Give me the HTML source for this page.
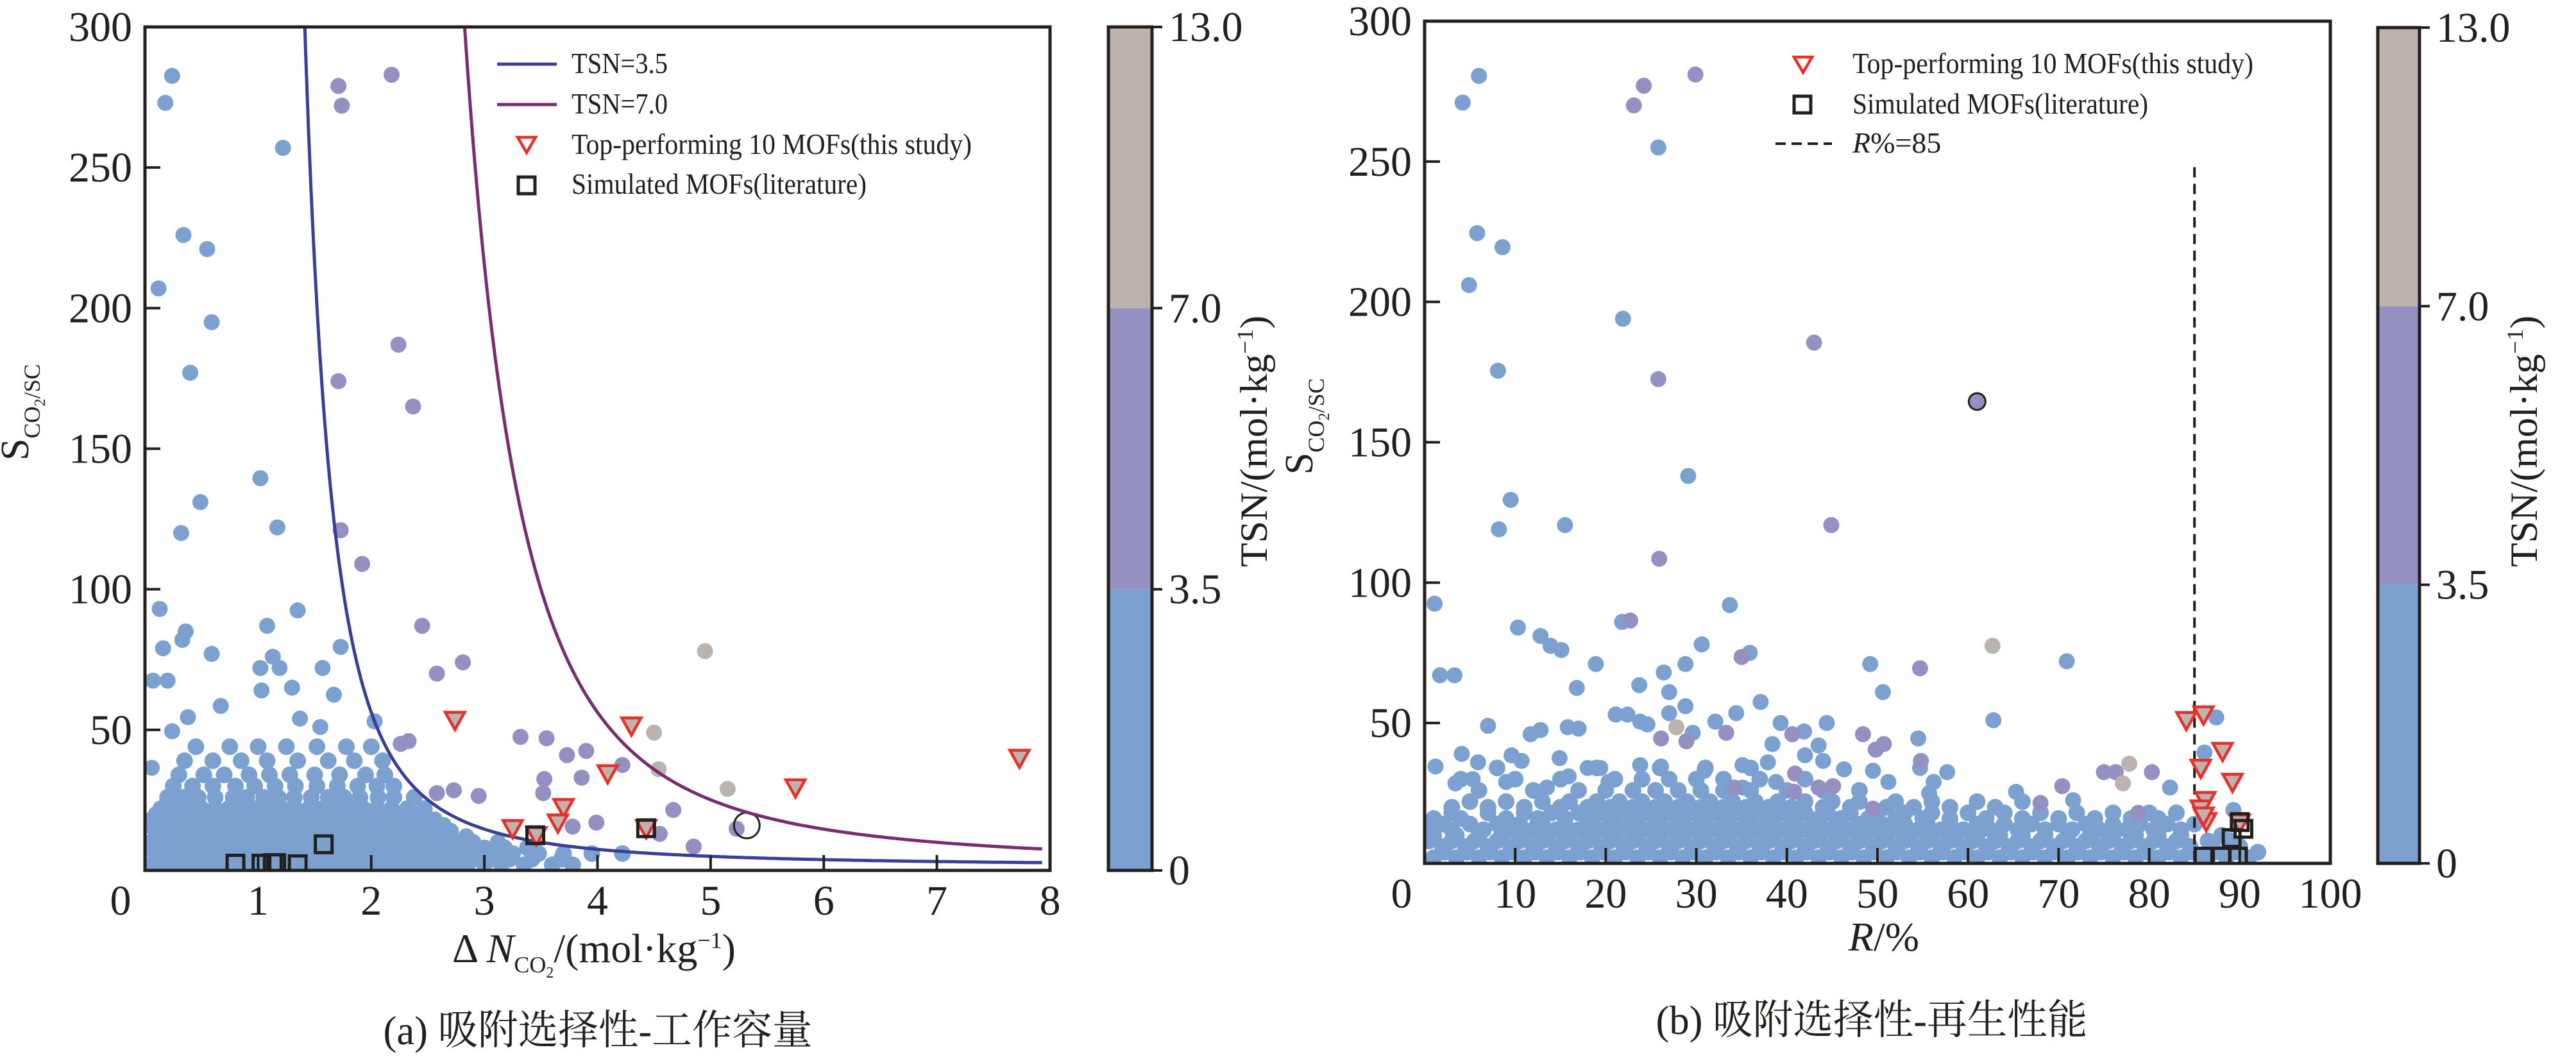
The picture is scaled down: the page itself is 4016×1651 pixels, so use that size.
<!DOCTYPE html>
<html><head><meta charset="utf-8"><style>
html,body{margin:0;padding:0;background:#fff;}
svg, svg text{font-family:"Liberation Serif","Noto Serif CJK SC",serif;}
</style></head><body>
<svg id="fig" width="4016" height="1646" viewBox="0 0 4016 1646" xmlns="http://www.w3.org/2000/svg" font-family="'Liberation Serif','Noto Serif CJK SC',serif">
<rect width="4016" height="1646" fill="#fff"/>
<g id="plotA"></g>
<g id="plotB"></g>
</svg>
<script>
// ---------- Panel (a) data ----------
const aXTicks = [0,1,2,3,4,5,6,7,8];
const aYTicks = [0,50,100,150,200,250,300];
const cbTicks = [0,3.5,7.0,13.0];
const cbLabels = ["0","3.5","7.0","13.0"];
const tsnCurves = [3.5,7.0];
const aCloudS = [2,6,10,14,18,22,26,30,34,39,44,4,8,12,16,20];
const aCloudX = [
 [0.04,0.15,0.27,0.38,0.5,0.61,0.72,0.84,0.95,1.07,1.2,1.31,1.43,1.55,1.66,1.78,1.9,2.01,2.13,2.25,2.37,2.48,2.6,2.72,2.85,3.0,3.15,3.35,3.6,3.78],
 [0.09,0.2,0.32,0.44,0.55,0.67,0.78,0.9,1.02,1.13,1.25,1.37,1.49,1.6,1.72,1.84,1.96,2.07,2.19,2.31,2.43,2.55,2.66,2.78,2.92,3.08,3.25,3.48,3.7,3.95,4.22],
 [0.05,0.16,0.28,0.4,0.51,0.63,0.74,0.86,0.98,1.1,1.21,1.33,1.45,1.57,1.68,1.8,1.92,2.04,2.15,2.27,2.39,2.51,2.62,2.76,2.9,3.12],
 [0.1,0.22,0.33,0.45,0.57,0.69,0.8,0.92,1.04,1.16,1.27,1.39,1.51,1.63,1.74,1.86,1.98,2.1,2.21,2.33,2.45,2.58,2.7],
 [0.06,0.18,0.3,0.41,0.53,0.65,0.77,0.88,1.0,1.12,1.24,1.35,1.47,1.59,1.71,1.83,1.95,2.07,2.19,2.31,2.44,2.56],
 [0.14,0.26,0.38,0.5,0.62,0.74,0.86,0.97,1.09,1.21,1.33,1.45,1.57,1.69,1.81,1.93,2.05,2.18,2.32,2.47],
 [0.2,0.34,0.47,0.62,0.78,0.9,1.05,1.18,1.32,1.47,1.62,1.76,1.9,2.06,2.2,2.38],
 [0.25,0.42,0.6,0.8,0.97,1.15,1.33,1.52,1.7,1.88,2.05,2.2],
 [0.3,0.52,0.7,0.92,1.1,1.28,1.5,1.72,1.95,2.12],
 [0.35,0.6,0.85,1.08,1.35,1.62,1.85,2.1],
 [0.45,0.75,1.0,1.25,1.52,1.78,2.0],
 [0.1,0.21,0.33,0.44,0.56,0.67,0.78,0.9,1.01,1.13,1.26,1.37,1.49,1.61,1.72,1.84,1.96,2.07,2.19,2.31,2.43,2.54,2.66,2.78,2.9,3.05,3.22,3.42,3.68],
 [0.03,0.14,0.26,0.38,0.49,0.61,0.72,0.84,0.96,1.07,1.19,1.31,1.43,1.54,1.66,1.78,1.9,2.01,2.13,2.25,2.37,2.49,2.6,2.72,2.85,3.0,3.18,3.38],
 [0.1,0.22,0.34,0.46,0.57,0.69,0.8,0.92,1.04,1.16,1.27,1.39,1.51,1.63,1.74,1.86,1.98,2.1,2.21,2.33,2.45,2.57,2.7,2.84],
 [0.03,0.16,0.27,0.39,0.51,0.63,0.74,0.86,0.98,1.1,1.21,1.33,1.45,1.57,1.68,1.8,1.92,2.04,2.15,2.27,2.39,2.51,2.64],
 [0.1,0.2,0.32,0.44,0.56,0.68,0.8,0.92,1.03,1.15,1.27,1.39,1.51,1.63,1.75,1.87,1.99,2.11,2.25,2.4]
];
const aBlueX = [0.24,0.18,1.22,0.34,0.55,0.12,0.59,0.40,1.02,0.49,1.17,0.32,0.13,1.35,1.08,0.36,0.33,0.16,0.59,1.13,1.19,1.02,1.57,0.07,0.20,1.30,1.03,1.67,1.73,0.67,2.03,0.38,1.37,0.24,1.55,0.06];
const aBlueS = [282.6,273,257,226,221,207,195,177,139.5,131,122,120,93,92.5,87,85,82,79,77,76,72,72,72,67.5,67.5,65,64,62.5,79.5,58.5,53,54.5,54,49.5,51,36.5];
const aPurpX = [1.71,1.74,2.18,2.24,1.71,2.37,1.73,1.92,2.45,2.58,2.81,3.32,3.55,3.73,3.90,4.22,3.86,3.53,2.26,2.33,2.58,2.73,2.95,4.67,4.55,4.85,5.23,3.52,3.99,3.78];
const aPurpS = [279,272,283,187,174,165,121,109,87,70,74,47.5,47,41,42.5,37.5,33,32.5,45,46,27.5,28.5,26.5,21.5,13,8.5,14.8,27.5,17,15.6];
const aGrayX = [4.95,4.50,4.54,5.15];
const aGrayS = [78,49,36,29];
const aTopX = [2.74,4.30,4.09,5.75,7.73,3.70,3.65,3.25,3.46,4.43];
const aTopS = [53.5,51.5,34.5,29.5,40,22.5,17,15,12.5,15];
const aLitX = [0.80,1.03,1.13,1.16,1.35,1.58,3.45,4.43];
const aLitS = [2.4,2.4,2.6,2.6,2.2,9.3,12.5,15];

// ---------- Panel (b) data ----------
const bXTicks = [0,10,20,30,40,50,60,70,80,90,100];
const bYTicks = [0,50,100,150,200,250,300];
const bCloudS = [2,6,10,14,18,22,26,30,34,4,8,12,16,20];
const bCloudX = [
 [1,3.5,6,8.5,11,13.5,16,18.5,21,23.5,26,28.5,31,33.5,36,38.5,41,43.5,46,48.5,51,53.5,56,58.5,61,63.5,66,68.5,71,73.5,76,78.5,81,83.5,86,88.5,91],
 [2,4.5,7,9.5,12,14.5,17,19.5,22,24.5,27,29.5,32,34.5,37,39.5,42,44.5,47,49.5,52,54.5,57,59.5,62,64.5,67,69.5,72,74.5,77,79.5,82,84.5,87,90],
 [1,3.5,6,8.5,11,13.5,16,18.5,21,23.5,26,28.5,31,33.5,36,38.5,41,43.5,46,48.5,51,53.5,56,58.5,61,63.5,66,68.5,71,73.5,76,78.5,81,83.5,88],
 [2,5,8,10.5,13,15.5,18,20.5,23,25.5,28,30.5,33,35.5,38,40.5,43,45.5,48,50.5,53,55.5,58,61,64,67,70,73,76,79,82,85],
 [3,7,11,14,17,19.5,22,24.5,27,29.5,32,34.5,37,39.5,42,44.5,47,50,53,56,60,64,68,72,76,80,83],
 [5,9,13,16,19,21.5,24,26.5,29,31.5,34,36.5,39,42,45,48,52,56,61,66],
 [6,12,17,20,23,25.5,28,30.5,33,36,40,44,48],
 [4,10,15,21,24,27,30,33,37,42],
 [8,19,26,31,36],
 [2.2,4.7,7.2,9.7,12.2,14.7,17.2,19.7,22.2,24.7,27.2,29.7,32.2,34.7,37.2,39.7,42.2,44.7,47.2,49.7,52.2,54.7,57.2,59.7,62.2,64.7,67.2,69.7,72.2,74.7,77.2,79.7,82.2,84.7,87.2,89.7,92],
 [0.5,3,5.5,8,10.5,13,15.5,18,20.5,23,25.5,28,30.5,33,35.5,38,40.5,43,45.5,48,50.5,53,55.5,58,60.5,63,65.5,68,70.5,73,75.5,78,80.5,83,86.5,89],
 [0.5,3,6.5,9.5,12,14.5,17,19.5,22,24.5,27,29.5,32,34.5,37,39.5,42,44.5,47,49.5,52,54.5,57,59.5,62.5,65.5,68.5,71.5,74.5,77.5,80.5,83.5],
 [1,4,9,12.5,15.5,18.5,21,23.5,26,28.5,31,33.5,36,38.5,41,43.5,46,49,52,55,58,62,66,70,74,78,81],
 [3,7,11,15,18,20.5,23,25.5,28,30.5,33,35.5,38,40.5,44,47,51,54,58,63]
];
const bBlueR = [6.0,4.2,25.8,5.8,8.6,4.9,21.9,8.1,29.1,9.5,15.5,8.2,1.1,33.7,10.3,21.8,12.8,13.9,15.1,30.6,35.9,18.9,26.4,28.8,1.7,3.3,49.2,70.9,23.7,16.8,27.0,50.6,28.8,37.1,7.0,21.1,22.4,34.4,27.0,39.3,44.4,62.8,87.4,32.1,11.7,12.8,15.8,17.0,23.8,24.6,29.6,41.9,38.4,43.5,54.5,4.1,9.6,10.7,5.9,1.2,14.9,18.0,19.4,23.8,26.1,30.9,35.1,37.9,42.0,44.0,46.3,49.5,54.7,57.7,86.1,82.3,5.3,3.4,9.0,13.5,15.9,20.3,35.1,38.8,51.2,56.2,65.3,55.7,71.6,89.3];
const bBlueS = [280.5,271,255,224.5,219.5,206,194,175.5,138,129.5,120.5,119,92.5,92,84,86,81,77.5,76,78,75,71,68,71,67,67,71,72,63.5,62.5,61,61,56,57.5,49,53,53,53.5,53.5,50,50,51,52,50.5,46,47.5,48.5,48,50.5,49.5,46.5,47,42.5,42,44.5,39,38.5,36.5,36,34.5,37.5,34,34,35,34.5,33,35,36,38.5,36.5,33.5,33,34,32.5,39.5,27,30,28.5,29,27,31,29,27,29,29,29,25.5,25,22.5,19];
const bPurpR = [24.2,23.1,29.9,43.0,25.8,44.9,25.9,22.7,35.0,54.7,33.3,28.9,26.1,48.4,50.7,49.8,40.6,40.8,43.5,45.1,34.2,70.4,75.0,76.3,80.3,68.0,78.8,54.8,49.5,40.9];
const bPurpS = [277,270,281,185.5,172.5,120.5,108.5,86.5,73.5,69.5,46.5,43.5,44.5,46,42.5,40.5,46,25.5,27,27.5,27,27.5,32.5,32.5,32.5,21.5,18,36.5,19.5,32];
const bCircR = [61.0];
const bCircS = [164.5];
const bGrayR = [27.8,62.7,77.8,77.1];
const bGrayS = [48.5,77.5,35.5,28.5];
const bTopR = [84.1,86.0,88.1,85.7,89.2,86.2,85.7,86.3,86.0,90.0];
const bTopS = [51,53,40,34,29,22.5,19.5,15,17,14.5];
const bLitR = [86.0,88.0,89.8,89.1,90.0,90.4];
const bLitS = [2.4,2.4,2.4,9,14.7,12.3];
const cutoffR = [85];
const cutoffTop = [248];

// ---------- helpers ----------
const NS = "http://www.w3.org/2000/svg";
const FONT = "'Liberation Serif','Noto Serif CJK SC',serif";
const BLUE="#7aa1d0", PURP="#9590c2", GRAY="#bbb3ae", INK="#231f1c", RED="#e8302a";
function mk(tag, attrs, parent){
  const e=document.createElementNS(NS,tag);
  for(const k in attrs) e.setAttribute(k,attrs[k]);
  parent.appendChild(e); return e;
}
function txt(parent, s, x, y, size, anchor, extra){
  const t=mk('text',Object.assign({x:x,y:y,'font-size':size,'text-anchor':anchor||'start',fill:INK,'font-family':FONT},extra||{}),parent);
  t.textContent=s; return t;
}

function buildPanel(cfg){
  const g=document.getElementById(cfg.id);
  const X=cfg.sx, Y=cfg.sy;
  const pts=mk('g',{},g);
  
  
  cfg.cloudS.forEach((s,i)=>{
    cfg.cloudX[i].forEach(x=>{
      const c=mk('circle',{cx:X(x),cy:Y(s),r:13,fill:BLUE},pts);
      
      
    });
  });
  const groups=[[cfg.blueX,cfg.blueS,BLUE],[cfg.purpX,cfg.purpS,PURP],[cfg.grayX,cfg.grayS,GRAY]];
  groups.forEach(([xs,ss,col])=>{
    xs.forEach((x,i)=>{
      const c=mk('circle',{cx:X(x),cy:Y(ss[i]),r:12.5,fill:col},pts);
      
      
    });
  });
  if(cfg.circX){
    cfg.circX.forEach((x,i)=>{
      const c=mk('circle',{cx:X(x),cy:Y(cfg.circS[i]),r:13,fill:PURP,stroke:INK,'stroke-width':3},pts);
      
      
    });
  }
  if(cfg.extra) cfg.extra(g);
  cfg.topX.forEach((x,i)=>{
    const cx=X(x), cy=Y(cfg.topS[i]);
    const p=mk('polygon',{points:`${cx-15},${cy-12} ${cx+15},${cy-12} ${cx},${cy+15}`,fill:GRAY,stroke:RED,'stroke-width':4.5},g);
    
    
  });
  cfg.litX.forEach((x,i)=>{
    const cx=X(x), cy=Y(cfg.litS[i]);
    const r=mk('rect',{x:cx-13,y:cy-13,width:26,height:26,fill:'none',stroke:INK,'stroke-width':5},g);
    
    
  });
  const L=cfg.L,R=cfg.R,T=cfg.T,B=cfg.B;
  mk('rect',{x:L-60,y:B+2.5,width:R-L+120,height:60,fill:'#fff'},g);
  mk('rect',{x:L-60,y:0,width:57.5,height:B+60,fill:'#fff'},g);
  const fr=mk('rect',{x:L,y:T,width:R-L,height:B-T,fill:'none',stroke:INK,'stroke-width':5},g);
  
  
  const xa=mk('g',{},g);
  
  
  cfg.xTicks.forEach(v=>{
    const x=X(v);
    mk('line',{x1:x,y1:B,x2:x,y2:B-24,stroke:INK,'stroke-width':4},xa);
    const t=txt(xa,String(v),x+(v===0?cfg.zeroOff:0),B+69,66,'middle');
    
    
  });
  const ya=mk('g',{},g);
  
  
  cfg.yTicks.forEach(v=>{
    const y=Y(v);
    mk('line',{x1:L,y1:y,x2:L+24,y2:y,stroke:INK,'stroke-width':4},ya);
    if(v>0){
      const t=txt(ya,String(v),L-20,y+22,66,'end');
      
      
    }
  });
  const cb=mk('g',{},g);
  
  
  const CY=v=>{
    const h=(cfg.cbB-cfg.T2)/3;
    if(v<=3.5) return cfg.cbB-v/3.5*h;
    if(v<=7) return cfg.cbB-h-(v-3.5)/3.5*h;
    return cfg.cbB-2*h-(v-7)/6*h;
  };
  const cols=[BLUE,PURP,GRAY];
  for(let i=0;i<3;i++){
    const r=mk('rect',{x:cfg.cbL,y:CY(cbTicks[i+1]),width:cfg.cbW,height:CY(cbTicks[i])-CY(cbTicks[i+1]),fill:cols[i]},cb);
    
    
  }
  mk('rect',{x:cfg.cbL,y:cfg.T2,width:cfg.cbW,height:cfg.cbB-cfg.T2,fill:'none',stroke:INK,'stroke-width':5},cb);
  cbTicks.forEach((v,i)=>{
    const y=CY(v);
    mk('line',{x1:cfg.cbL+cfg.cbW,y1:y,x2:cfg.cbL+cfg.cbW+16,y2:y,stroke:INK,'stroke-width':4},cb);
    const t=txt(cb,cbLabels[i],cfg.cbL+cfg.cbW+26,y+22,66,'start');
    
    
  });
  const cl=txt(cb,'',cfg.cbLabX,cfg.cbLabY,60,'middle',{transform:`rotate(-90 ${cfg.cbLabX} ${cfg.cbLabY})`,textLength:392,lengthAdjust:'spacingAndGlyphs'});
  cl.innerHTML='TSN/(mol·kg<tspan font-size="36" dy="-22">−1</tspan><tspan dy="22">)</tspan>';
  
  
  const yl=mk('text',{x:0,y:0,transform:`translate(${cfg.yLabX} ${cfg.yLabY}) rotate(-90)`,'font-size':62,fill:INK,'font-family':FONT},g);
  yl.innerHTML='S<tspan font-size="36" dy="18">CO<tspan font-size="24" dy="8">2</tspan><tspan dy="-8">/SC</tspan></tspan>';
  
  
}

// Panel A
const aL=226,aR=1637,aT=42,aB=1357;
const ax=v=>aL+v*(aR-aL)/8, ay=v=>aB-v*(aB-aT)/300;
buildPanel({id:'plotA',sx:ax,sy:ay,L:aL,R:aR,T:aT,B:aB,xTicks:aXTicks,yTicks:aYTicks,zeroOff:-38,
 cloudS:aCloudS,cloudX:aCloudX,blueX:aBlueX,blueS:aBlueS,purpX:aPurpX,purpS:aPurpS,grayX:aGrayX,grayS:aGrayS,
 topX:aTopX,topS:aTopS,litX:aLitX,litS:aLitS,
 cbL:1728,cbW:68,T2:42,cbB:1357,cbLabX:1975,cbLabY:688,yLabX:44,yLabY:718,
 extra:(g)=>{
   const oc=mk('circle',{cx:ax(5.32),cy:ay(16),r:20,fill:'none',stroke:INK,'stroke-width':3},g);
   
   
   const colors=['#3a3e98','#7b2b6f'];
   tsnCurves.forEach((T,i)=>{
     const x0=T/Math.log10(300);
     let d='';
     for(let k=0;k<=400;k++){
       const x=x0+(7.93-x0)*Math.pow(k/400,2);
       const s=Math.pow(10,T/x);
       d+=(k?'L':'M')+ax(x).toFixed(1)+','+ay(s).toFixed(1);
     }
     const p=mk('path',{d:d,fill:'none',stroke:colors[i],'stroke-width':5},g);
     
     
   });
 }});
(function(){
  const g=document.getElementById('plotA');
  const lg=mk('g',{},g);
  
  
  mk('line',{x1:775,y1:100,x2:868,y2:100,stroke:'#3a3e98','stroke-width':5},lg);
  mk('line',{x1:775,y1:163,x2:868,y2:163,stroke:'#7b2b6f','stroke-width':5},lg);
  mk('polygon',{points:'807,214 835,214 821,238',fill:'#fff',stroke:RED,'stroke-width':4.5},lg);
  mk('rect',{x:808,y:276,width:26,height:26,fill:'none',stroke:INK,'stroke-width':5},lg);
  const items=[['TSN=3.5',114,150],['TSN=7.0',177,150],['Top-performing 10 MOFs(this study)',240,624],['Simulated MOFs(literature)',302,460]];
  items.forEach(([s,y,w])=>{
    const t=txt(lg,s,891,y,46,'start',{textLength:w,lengthAdjust:'spacingAndGlyphs'});
    
    
  });
  const xl=mk('text',{x:926,y:1500,'font-size':64,'text-anchor':'middle',fill:INK,'font-family':FONT},g);
  xl.innerHTML='Δ <tspan font-style="italic">N</tspan><tspan font-size="36" dy="16">CO<tspan font-size="24" dy="8">2</tspan></tspan><tspan dy="-24">/(mol·kg</tspan><tspan font-size="36" dy="-22">−1</tspan><tspan dy="22">)</tspan>';
  
  
  const cap=txt(g,'(a) 吸附选择性-工作容量',932,1628,64,'middle',{textLength:669,lengthAdjust:'spacingAndGlyphs'});
  
  
})();

// Panel B
const bL=2221,bR=3633,bT=33,bB=1346;
const bx=v=>bL+v*(bR-bL)/100, by=v=>bB-v*(bB-bT)/300;
buildPanel({id:'plotB',sx:bx,sy:by,L:bL,R:bR,T:bT,B:bB,xTicks:bXTicks,yTicks:bYTicks,zeroOff:-36,
 cloudS:bCloudS,cloudX:bCloudX,blueX:bBlueR,blueS:bBlueS,purpX:bPurpR,purpS:bPurpS,grayX:bGrayR,grayS:bGrayS,
 circX:bCircR,circS:bCircS,
 topX:bTopR,topS:bTopS,litX:bLitR,litS:bLitS,
 cbL:3707,cbW:65,T2:43,cbB:1346,cbLabX:3955,cbLabY:688,yLabX:2046,yLabY:740,
 extra:(g)=>{
   cutoffR.forEach((r,i)=>{
     const l=mk('line',{x1:bx(r),y1:by(cutoffTop[i]),x2:bx(r),y2:bB,stroke:INK,'stroke-width':4,'stroke-dasharray':'16,10'},g);
     
     
   });
 }});
(function(){
  const g=document.getElementById('plotB');
  const lg=mk('g',{},g);
  
  
  mk('polygon',{points:'2797,89 2825,89 2811,113',fill:'#fff',stroke:RED,'stroke-width':4.5},lg);
  mk('rect',{x:2797,y:150,width:26,height:26,fill:'none',stroke:INK,'stroke-width':5},lg);
  mk('line',{x1:2768,y1:224,x2:2856,y2:224,stroke:INK,'stroke-width':4,'stroke-dasharray':'16,9'},lg);
  const t1=txt(lg,'Top-performing 10 MOFs(this study)',2888,114,46,'start',{textLength:625,lengthAdjust:'spacingAndGlyphs'});
  
  
  const t2=txt(lg,'Simulated MOFs(literature)',2888,177,46,'start',{textLength:461,lengthAdjust:'spacingAndGlyphs'});
  
  
  const t3=mk('text',{x:2888,y:238,'font-size':46,fill:INK,'font-family':FONT},lg);
  t3.innerHTML='<tspan font-style="italic">R</tspan>%=85';
  
  
  const xl=mk('text',{x:2937,y:1482,'font-size':64,'text-anchor':'middle',fill:INK,'font-family':FONT},g);
  xl.innerHTML='<tspan font-style="italic">R</tspan>/%';
  
  
  const cap=txt(g,'(b) 吸附选择性-再生性能',2918,1612,64,'middle',{textLength:673,lengthAdjust:'spacingAndGlyphs'});
  
  
})();
</script>
</body></html>
